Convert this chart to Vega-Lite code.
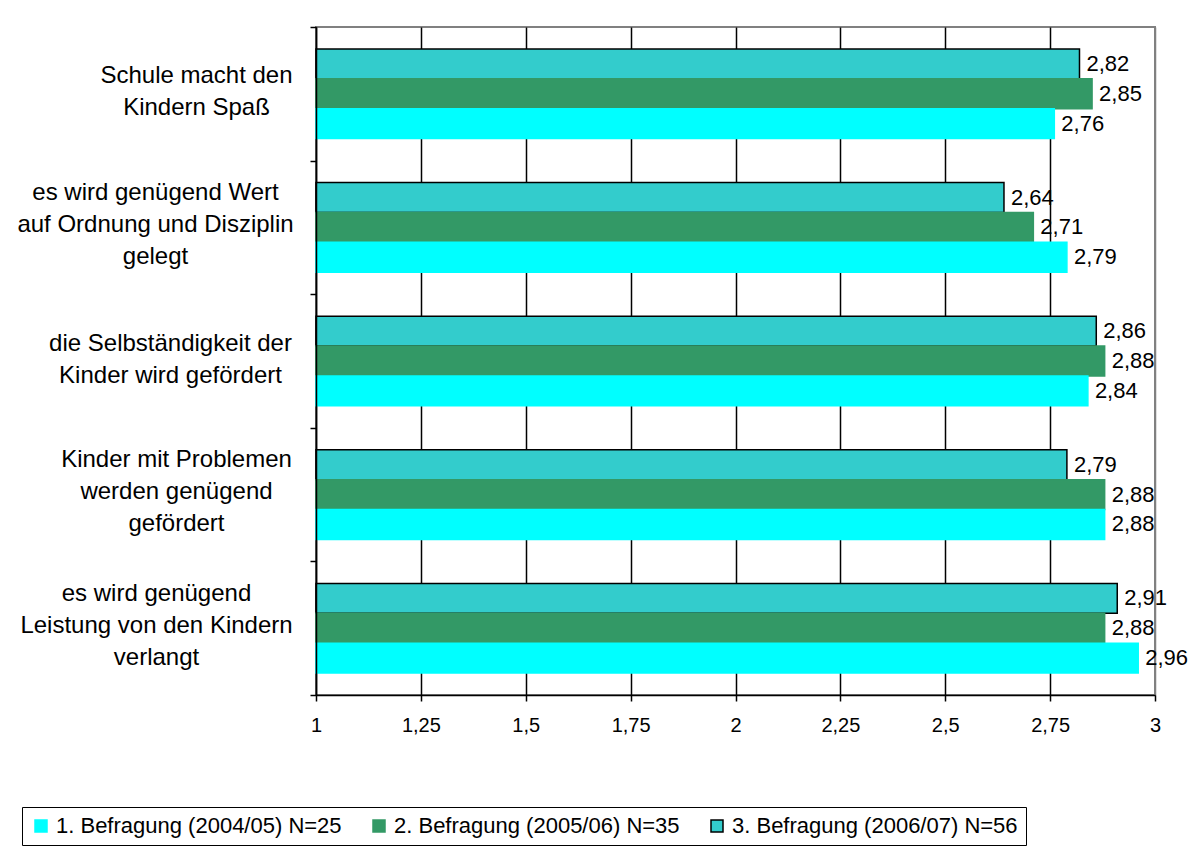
{
  "$schema": "https://vega.github.io/schema/vega-lite/v6.json",
  "autosize": "none",
  "width": 839,
  "height": 668,
  "padding": {"left": 316, "top": 27, "right": 35, "bottom": 162},
  "background": "white",
  "config": {
    "locale": {"number": {"decimal": ",", "thousands": ".", "grouping": [3], "currency": ["", " €"]}},
    "font": "Liberation Sans",
    "view": {"stroke": "#808080", "strokeWidth": 2}
  },
  "data": {
    "values": [
      {"item": "Schule macht den|Kindern Spaß", "survey": "3. Befragung (2006/07) N=56", "value": 2.82},
      {"item": "Schule macht den|Kindern Spaß", "survey": "2. Befragung (2005/06) N=35", "value": 2.85},
      {"item": "Schule macht den|Kindern Spaß", "survey": "1. Befragung (2004/05) N=25", "value": 2.76},
      {"item": "es wird genügend Wert|auf Ordnung und Disziplin|gelegt", "survey": "3. Befragung (2006/07) N=56", "value": 2.64},
      {"item": "es wird genügend Wert|auf Ordnung und Disziplin|gelegt", "survey": "2. Befragung (2005/06) N=35", "value": 2.71},
      {"item": "es wird genügend Wert|auf Ordnung und Disziplin|gelegt", "survey": "1. Befragung (2004/05) N=25", "value": 2.79},
      {"item": "die Selbständigkeit der|Kinder wird gefördert", "survey": "3. Befragung (2006/07) N=56", "value": 2.86},
      {"item": "die Selbständigkeit der|Kinder wird gefördert", "survey": "2. Befragung (2005/06) N=35", "value": 2.88},
      {"item": "die Selbständigkeit der|Kinder wird gefördert", "survey": "1. Befragung (2004/05) N=25", "value": 2.84},
      {"item": "Kinder mit Problemen|werden genügend|gefördert", "survey": "3. Befragung (2006/07) N=56", "value": 2.79},
      {"item": "Kinder mit Problemen|werden genügend|gefördert", "survey": "2. Befragung (2005/06) N=35", "value": 2.88},
      {"item": "Kinder mit Problemen|werden genügend|gefördert", "survey": "1. Befragung (2004/05) N=25", "value": 2.88},
      {"item": "es wird genügend|Leistung von den Kindern|verlangt", "survey": "3. Befragung (2006/07) N=56", "value": 2.91},
      {"item": "es wird genügend|Leistung von den Kindern|verlangt", "survey": "2. Befragung (2005/06) N=35", "value": 2.88},
      {"item": "es wird genügend|Leistung von den Kindern|verlangt", "survey": "1. Befragung (2004/05) N=25", "value": 2.96}
    ]
  },
  "encoding": {
    "y": {
      "field": "item",
      "type": "nominal",
      "sort": [
        "Schule macht den|Kindern Spaß",
        "es wird genügend Wert|auf Ordnung und Disziplin|gelegt",
        "die Selbständigkeit der|Kinder wird gefördert",
        "Kinder mit Problemen|werden genügend|gefördert",
        "es wird genügend|Leistung von den Kindern|verlangt"
      ],
      "scale": {"paddingInner": 0, "paddingOuter": 0},
      "axis": {
        "title": null,
        "zindex": 1,
        "grid": false,
        "domainColor": "black",
        "domainWidth": 1.5,
        "tickColor": "black",
        "tickWidth": 1.5,
        "tickSize": 6,
        "tickBand": "extent",
        "labelAlign": "center",
        "labelBaseline": "middle",
        "labelPadding": {
          "condition": [
            {"test": "datum.value === 'Schule macht den|Kindern Spaß'", "value": 114},
            {"test": "datum.value === 'die Selbständigkeit der|Kinder wird gefördert'", "value": 140},
            {"test": "datum.value === 'Kinder mit Problemen|werden genügend|gefördert'", "value": 134},
            {"test": "datum.value === 'es wird genügend Wert|auf Ordnung und Disziplin|gelegt'", "value": 155}
          ],
          "value": 154
        },
        "labelOffset": {
          "condition": [
            {"test": "datum.value === 'Schule macht den|Kindern Spaß' || datum.value === 'die Selbständigkeit der|Kinder wird gefördert'", "value": -18}
          ],
          "value": -35
        },
        "labelFontSize": 24,
        "labelLineHeight": 32,
        "labelColor": "black",
        "labelLimit": 0,
        "labelExpr": "split(datum.label, '|')"
      }
    },
    "yOffset": {
      "field": "survey",
      "type": "nominal",
      "sort": ["3. Befragung (2006/07) N=56", "2. Befragung (2005/06) N=35", "1. Befragung (2004/05) N=25"],
      "scale": {"paddingInner": 0, "paddingOuter": 0.7365}
    },
    "x": {
      "field": "value",
      "type": "quantitative",
      "scale": {"domain": [1, 3], "zero": false, "nice": false},
      "axis": {
        "title": null,
        "values": [1, 1.25, 1.5, 1.75, 2, 2.25, 2.5, 2.75, 3],
        "labelExpr": "format(datum.value, '.2~f')",
        "grid": true,
        "gridColor": {"condition": {"test": "datum.value == 3", "value": "#808080"}, "value": "black"},
        "gridWidth": 1.5,
        "domainColor": "black",
        "domainWidth": 1.5,
        "tickColor": "black",
        "tickWidth": 1.5,
        "tickSize": 6,
        "labelFontSize": 20,
        "labelPadding": 14,
        "labelColor": "black",
        "labelFlush": false
      }
    }
  },
  "layer": [
    {
      "mark": {"type": "bar", "strokeWidth": 1.5},
      "encoding": {
        "x2": {"datum": 1},
        "fill": {
          "field": "survey",
          "type": "nominal",
          "scale": {
            "domain": ["1. Befragung (2004/05) N=25", "2. Befragung (2005/06) N=35", "3. Befragung (2006/07) N=56"],
            "range": ["#00FFFF", "#339966", "#33CCCC"]
          },
          "legend": {
            "title": null,
            "orient": "none",
            "legendX": -294,
            "legendY": 780,
            "direction": "horizontal",
            "symbolType": "square",
            "symbolSize": 144,
            "symbolStrokeWidth": 1.5,
            "labelFontSize": 22,
            "labelColor": "black",
            "labelLimit": 0,
            "labelOffset": 4,
            "columnPadding": 26,
            "strokeColor": "black",
            "padding": 8
          }
        },
        "stroke": {
          "field": "survey",
          "type": "nominal",
          "scale": {
            "domain": ["1. Befragung (2004/05) N=25", "2. Befragung (2005/06) N=35", "3. Befragung (2006/07) N=56"],
            "range": ["#00FFFF", "#339966", "#000000"]
          }
        }
      }
    },
    {
      "mark": {"type": "text", "align": "left", "baseline": "middle", "dx": 7, "fontSize": 22, "color": "black"},
      "encoding": {
        "text": {"field": "value", "type": "quantitative", "format": ".2f"}
      }
    }
  ]
}
